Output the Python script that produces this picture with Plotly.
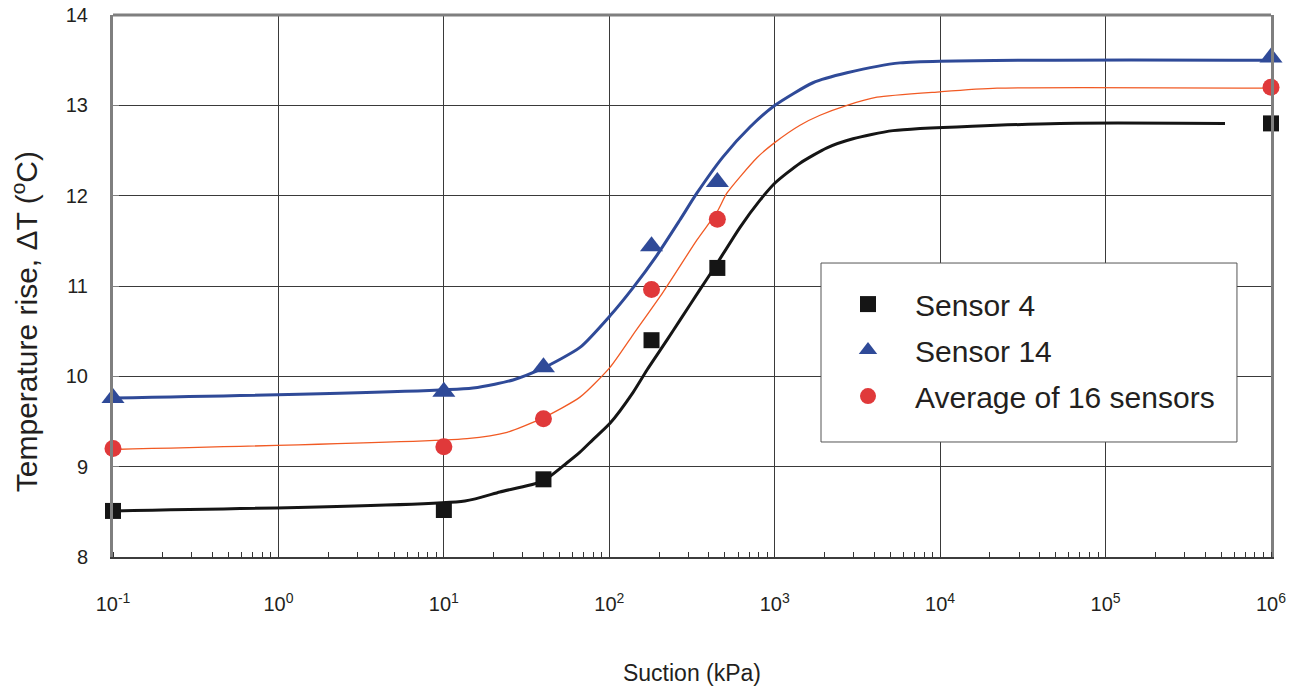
import plotly.graph_objects as go

# ---- measured data points ----
suction_pts = [0.1, 10, 40, 180, 450, 1e6]
sensor4 = [8.51, 8.52, 8.86, 10.40, 11.20, 12.80]
sensor14 = [9.76, 9.83, 10.10, 11.44, 12.15, 13.53]
average16 = [9.20, 9.22, 9.53, 10.96, 11.74, 13.20]

# ---- fitted curves ----
fit4_x = [0.1, 13.4, 21.8, 39.7, 55.3, 66.5, 79.7, 101, 139, 169, 223, 267, 353, 424, 617, 815,
          1004, 1422, 2070, 2973, 5188, 52970, 527000]
fit4_y = [8.51, 8.62, 8.72, 8.84, 9.04, 9.16, 9.30, 9.48, 9.82, 10.07, 10.40, 10.62, 10.96, 11.18, 11.65, 11.95,
          12.14, 12.36, 12.53, 12.63, 12.72, 12.80, 12.80]

fit14_x = [0.1, 15.0, 26.2, 39.7, 66.5, 101, 139, 194, 267, 339, 487, 709, 1004, 1703, 2735, 5718, 1e6]
fit14_y = [9.76, 9.87, 9.96, 10.09, 10.32, 10.67, 10.98, 11.34, 11.73, 12.03, 12.43, 12.76, 13.00, 13.25, 13.36, 13.47, 13.50]

fitavg_x = [0.1, 13.8, 24.1, 39.7, 66.5, 101, 139, 211, 339, 448, 515, 781, 1004, 1422, 1879, 2735, 4150, 9980, 22080, 1e6]
fitavg_y = [9.19, 9.31, 9.38, 9.54, 9.77, 10.10, 10.46, 10.93, 11.51, 11.82, 12.03, 12.42, 12.59, 12.78, 12.89, 13.00, 13.09, 13.15, 13.19, 13.19]

x_tickvals = [0.1, 1, 10, 100, 1000, 1e4, 1e5, 1e6]
x_ticktext = ["10<sup>-1</sup>", "10<sup>0</sup>", "10<sup>1</sup>", "10<sup>2</sup>",
              "10<sup>3</sup>", "10<sup>4</sup>", "10<sup>5</sup>", "10<sup>6</sup>"]
y_tickvals = [8, 9, 10, 11, 12, 13, 14]

BLACK = "#151515"
BLUE = "#2f4a98"
RED = "#e0393a"
ORANGE = "#f15a24"
FONT = "Liberation Sans, Arial, sans-serif"

fig = go.Figure()

fig.add_trace(go.Scatter(x=fit4_x, y=fit4_y, mode="lines",
                         line=dict(color=BLACK, width=3, shape="spline", smoothing=0.6),
                         showlegend=False, hoverinfo="skip"))
fig.add_trace(go.Scatter(x=fit14_x, y=fit14_y, mode="lines",
                         line=dict(color=BLUE, width=3, shape="spline", smoothing=0.6),
                         showlegend=False, hoverinfo="skip"))
fig.add_trace(go.Scatter(x=fitavg_x, y=fitavg_y, mode="lines",
                         line=dict(color=ORANGE, width=1.3, shape="spline", smoothing=0.6),
                         showlegend=False, hoverinfo="skip"))

fig.add_trace(go.Scatter(x=suction_pts, y=sensor4, mode="markers", name="Sensor 4",
                         legendgroup="a", cliponaxis=False,
                         marker=dict(symbol="square", size=16, color=BLACK)))
fig.add_trace(go.Scatter(x=suction_pts, y=sensor14, mode="markers", name="Sensor 14",
                         legendgroup="b", cliponaxis=False,
                         marker=dict(symbol="triangle-up", size=20, color=BLUE)))
fig.add_trace(go.Scatter(x=suction_pts, y=average16, mode="markers", name="Average of 16 sensors",
                         legendgroup="c", cliponaxis=False,
                         marker=dict(symbol="circle", size=17, color=RED)))

GRID = "#3a3a3a"

fig.update_xaxes(
    type="log", range=[-1, 6], automargin=False,
    tickmode="array", tickvals=x_tickvals, ticktext=x_ticktext,
    tickfont=dict(family=FONT, size=20, color="#231f20"),
    ticks="", ticklabelstandoff=28,
    showgrid=True, gridcolor=GRID, gridwidth=1,
    showline=True, linecolor="#3c3c3c", linewidth=2,
    zeroline=False,
    minor=dict(ticks="inside", ticklen=5, tickwidth=1, tickcolor="#333333", dtick="D1", showgrid=False),
    title=dict(text="Suction (kPa)", font=dict(family=FONT, size=23, color="#231f20"), standoff=51),
)
fig.update_yaxes(
    range=[8, 14], tickmode="array", tickvals=y_tickvals, automargin=False,
    tickfont=dict(family=FONT, size=20, color="#231f20"),
    ticks="inside", ticklen=6, tickcolor="#7f7f7f", tickwidth=1,
    ticklabelstandoff=18,
    showgrid=True, gridcolor=GRID, gridwidth=1,
    showline=True, linecolor="#7f7f7f", linewidth=3, mirror=True,
    zeroline=False,
)

fig.update_layout(
    width=1307, height=690,
    margin=dict(l=113, r=36, t=15, b=133),
    plot_bgcolor="white", paper_bgcolor="white",
    showlegend=True,
    legend=dict(
        x=0.6114, y=0.5146, xanchor="left", yanchor="top",
        bgcolor="rgba(0,0,0,0)", borderwidth=0,
        font=dict(family=FONT, size=30, color="#231f20"),
        itemwidth=84, tracegroupgap=4,
    ),
    shapes=[
        dict(type="line", xref="paper", yref="paper", x0=0, x1=1, y0=1, y1=1,
             line=dict(color="#7f7f7f", width=3), layer="above"),
        dict(type="rect", xref="paper", yref="paper", x0=0.6114, x1=0.9706, y0=0.2122, y1=0.5424,
             line=dict(color="#555555", width=1), fillcolor="white", layer="above"),
    ],
    annotations=[
        dict(text="Temperature rise, ΔT (<sup>o</sup>C)", textangle=-90,
             xref="paper", yref="paper", x=-0.076, y=0.435, xanchor="center", yanchor="middle",
             showarrow=False, font=dict(family=FONT, size=30, color="#231f20")),
    ],
)

fig.write_html("out.html", config={"displayModeBar": False},
               post_script="document.body.style.margin='0';")
